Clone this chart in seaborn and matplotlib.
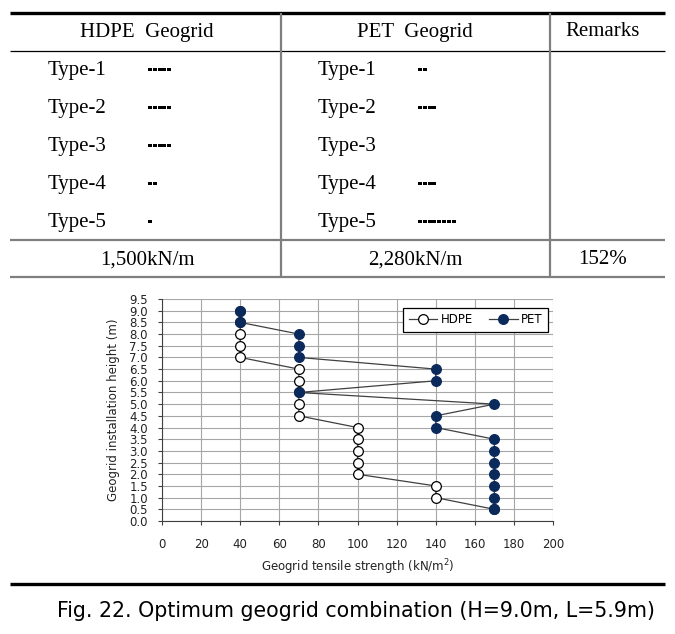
import numpy as np
import seaborn as sns
import matplotlib.pyplot as plt
from matplotlib.lines import Line2D
from matplotlib.patches import Rectangle

# data
heights = [9.0, 8.5, 8.0, 7.5, 7.0, 6.5, 6.0, 5.5, 5.0, 4.5, 4.0, 3.5, 3.0, 2.5, 2.0, 1.5, 1.0, 0.5]
hdpe_strength = [40, 40, 40, 40, 40, 70, 70, 70, 70, 70, 100, 100, 100, 100, 100, 140, 140, 170]
pet_strength = [40, 40, 70, 70, 70, 140, 140, 70, 170, 140, 140, 170, 170, 170, 170, 170, 170, 170]
type_labels = ['Type-1', 'Type-2', 'Type-3', 'Type-4', 'Type-5']
type_strength = [40, 70, 100, 140, 170]
x_ticks = list(range(0, 201, 20))
y_ticks = np.arange(0, 9.51, 0.5)

W, H = 675, 634
fig = plt.figure(figsize=(W / 100, H / 100), dpi=100)


def fx(px):
    return px / W


def fy(py):
    return 1 - py / H


def hline(y, x0, x1, lw, color):
    fig.add_artist(Line2D([fx(x0), fx(x1)], [fy(y), fy(y)], lw=lw, color=color,
                          transform=fig.transFigure, solid_capstyle='butt'))


def vline(x, y0, y1, lw, color):
    fig.add_artist(Line2D([fx(x), fx(x)], [fy(y0), fy(y1)], lw=lw, color=color,
                          transform=fig.transFigure, solid_capstyle='butt'))


# ---- table ----
serif = 'Liberation Serif'
tsize = 15
hline(13, 10, 665, 2.4, 'black')
hline(51, 10, 665, 0.9, 'black')
hline(240, 10, 665, 1.6, '#7f7f7f')
hline(277, 10, 665, 1.6, '#7f7f7f')
vline(281, 13, 277, 1.6, '#7f7f7f')
vline(550, 13, 277, 1.6, '#7f7f7f')

for txt, xc in [('HDPE  Geogrid', 147), ('PET  Geogrid', 415), ('Remarks', 603)]:
    fig.text(fx(xc), fy(32), txt, ha='center', va='center', family=serif, fontsize=tsize)

# dash marks: one segment per layer of that type
hdpe_counts = [hdpe_strength.count(s) for s in type_strength]
pet_counts = [pet_strength.count(s) for s in type_strength]
seg = 4.8
for i, lab in enumerate(type_labels):
    y = 69 + 38 * i
    for col_x, dash_x, n in [(48, 148, hdpe_counts[i]), (318, 418, pet_counts[i])]:
        fig.text(fx(col_x), fy(y + 1), lab, ha='left', va='center', family=serif, fontsize=tsize)
        for k in range(n):
            fig.add_artist(Rectangle((fx(dash_x + k * seg), fy(y + 1.5)), fx(seg - 0.8), 3 / H,
                                     transform=fig.transFigure, color='black', lw=0))

hdpe_total = sum(hdpe_strength)
pet_total = sum(pet_strength)
fig.text(fx(147), fy(260), f'{hdpe_total:,}kN/m', ha='center', va='center', family=serif, fontsize=tsize)
fig.text(fx(415), fy(260), f'{pet_total:,}kN/m', ha='center', va='center', family=serif, fontsize=tsize)
fig.text(fx(603), fy(260), f'{round(100 * pet_total / hdpe_total)}%', ha='center', va='center',
         family=serif, fontsize=tsize)

# ---- chart ----
ax = fig.add_axes([fx(162), fy(521), fx(553 - 162), (521 - 299) / H])
sns.lineplot(x=hdpe_strength, y=heights, sort=False, estimator=None, orient='y', ax=ax,
             color='#404040', lw=0.9, marker='o', markersize=7, markerfacecolor='white',
             markeredgecolor='black', markeredgewidth=0.9, label='HDPE')
sns.lineplot(x=pet_strength, y=heights, sort=False, estimator=None, orient='y', ax=ax,
             color='#404040', lw=0.9, marker='o', markersize=7, markerfacecolor='#0b2a5c',
             markeredgecolor='#0b2a5c', markeredgewidth=0.9, label='PET')

ax.set_xlim(0, 200)
ax.set_ylim(0, 9.5)
ax.set_xticks(x_ticks)
ax.set_yticks(y_ticks)
ax.set_yticklabels([f'{v:.1f}' for v in y_ticks])
ax.grid(True, color='#a6a6a6', lw=0.8)
ax.set_axisbelow(True)
for s in ['top', 'right']:
    ax.spines[s].set_visible(False)
for s in ['left', 'bottom']:
    ax.spines[s].set_color('#404040')
    ax.spines[s].set_linewidth(0.8)
ax.tick_params(axis='both', direction='out', length=3, width=0.8, color='#404040', labelsize=8.5,
               labelcolor='#222222')
ax.tick_params(axis='x', pad=9)
ax.tick_params(axis='y', pad=7)
ax.set_xlabel('Geogrid tensile strength (kN/m$^2$)', fontsize=8.5, labelpad=5, color='#222222')
ax.set_ylabel('Geogrid installation height (m)', fontsize=8.5, labelpad=7, color='#222222')

leg = ax.legend(loc='upper right', bbox_to_anchor=(1 - 5 / 391, 1 - 9 / 222), borderaxespad=0,
                ncol=2, fancybox=False, edgecolor='black', framealpha=1, fontsize=8.5,
                handlelength=2.4, columnspacing=1.4, handletextpad=0.3, borderpad=0.45)
leg.get_frame().set_linewidth(0.9)

# ---- caption ----
hline(584, 10, 665, 2.4, 'black')
fig.text(fx(356), fy(611), 'Fig. 22. Optimum geogrid combination (H=9.0m, L=5.9m)',
         ha='center', va='center', family='DejaVu Sans', fontsize=14.8)

fig.savefig('out.png', dpi=100)
